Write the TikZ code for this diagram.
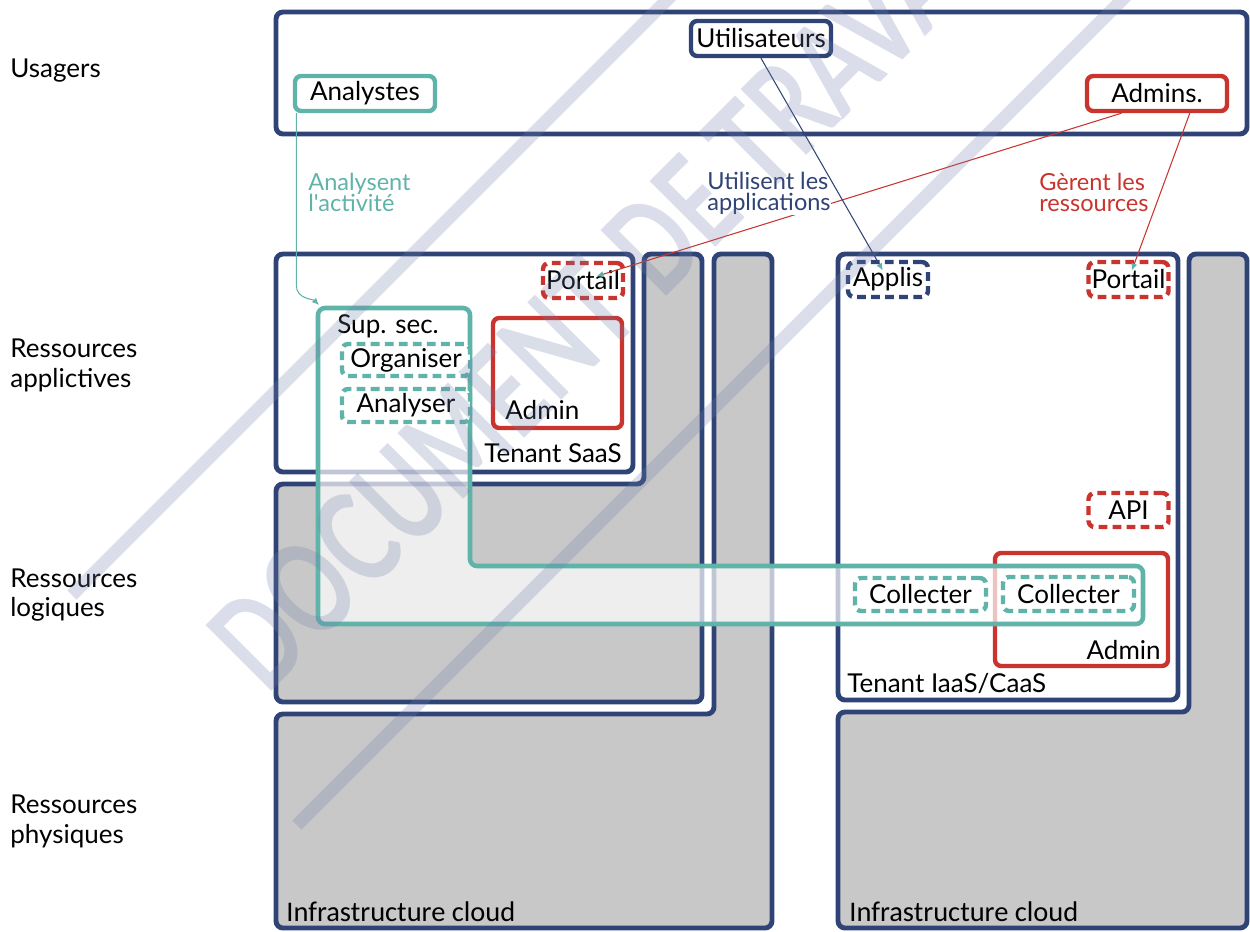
\documentclass[tikz,border=0pt]{standalone}
\usepackage{fontspec}
\setmainfont{Lato}[Ligatures=TeXOff]
\newfontfamily\infrafont{Carlito}
\usepackage{xcolor}
\usepackage{graphicx}
\usepackage{tikz}
\usetikzlibrary{arrows.meta}

\definecolor{marine}{RGB}{47,67,118}
\definecolor{canard}{RGB}{96,179,169}
\definecolor{rouge}{RGB}{201,52,46}
\definecolor{gris}{RGB}{200,200,200}
\definecolor{filigrane}{RGB}{110,125,170}

\newcommand\petit{\fontsize{13.4}{11.9}\selectfont\lineskiplimit=-20pt\relax}
\newcommand\infra{\infrafont\fontsize{16.2}{19}\selectfont}

\tikzset{
  couche/.style={draw=marine, line width=2.8pt, rounded corners=4pt},
  cadre/.style={line width=2.5pt, rounded corners=3.5pt},
  acteur/.style={cadre, draw, fill=white, inner sep=0pt, minimum width=2.8cm, minimum height=0.7cm},
  service/.style={acteur, dash pattern=on 5pt off 3pt, minimum width=1.6cm},
  lien/.style={line width=0.6pt, -{Latex[length=4pt, width=3.5pt, color=canard]}},
  legende/.style={anchor=north west, align=left, inner sep=0pt, font=\petit},
  niveau/.style={anchor=west, align=left, inner sep=0pt},
}

\begin{document}
\begin{tikzpicture}[x=0.02cm, y=-0.02cm]
            \tikzstyle{every node}=[font=\fontsize{14.8}{17}\selectfont]
            \clip (0,0) rectangle (1250,931);

            % Niveaux
            \node[anchor=base west, inner sep=0pt] (niv1) at (10,77) {Usagers};
            \node[niveau] (niv2) at (10,365) {Ressources\\applictives};
            \node[niveau] (niv3) at (10,595) {Ressources\\logiques};
            \node[niveau] (niv4) at (10,821) {Ressources\\physiques};

            % Usagers
            \draw[couche] (276,12) rectangle (1247,134);
            \node[acteur, draw=marine] (uti) at (761,38.5) {Utilisateurs};
            \node[acteur, draw=canard] (ana) at (365,93.5) {Analystes};
            \node[acteur, draw=rouge] (adm) at (1157,93.5) {Admins.};

            % Pile SaaS
            \draw[couche, fill=gris] (276,714) -- (714,714) -- (714,254) -- (772,254) -- (772,928) -- (276,928) -- cycle;
            \draw[couche, fill=gris] (276,484) -- (644,484) -- (644,254) -- (702,254) -- (702,702) -- (276,702) -- cycle;
            \draw[couche, fill=white] (276,254) rectangle (633,472);
            \node[service, draw=rouge] (portg) at (583,280.5) {Portail};
            \draw[cadre, rouge] (493,318) rectangle (622,428);
            \node[anchor=base west, inner sep=0pt] (admg) at (505,419) {Admin};
            \node[anchor=base east, inner sep=0pt] (saas) at (622,462) {Tenant SaaS};
            \node[anchor=base west, inner sep=0pt, font=\infra] (infg) at (286,921) {Infrastructure cloud};

            % Pile IaaS/CaaS
            \draw[couche, fill=gris] (838,712) -- (1189,712) -- (1189,254) -- (1247,254) -- (1247,928) -- (838,928) -- cycle;
            \draw[couche, fill=white] (838,254) rectangle (1178,700);
            \node[service, draw=marine] (applis) at (888,279.5) {Applis};
            \node[service, draw=rouge] (portd) at (1128.5,279.5) {Portail};
            \node[service, draw=rouge, minimum height=0.68cm] (api) at (1128.5,510) {API};
            \draw[cadre, rouge] (995,553) rectangle (1168,666);
            \node[anchor=base east, inner sep=0pt] (admd) at (1161,659) {Admin};
            \node[anchor=base west, inner sep=0pt] (iaas) at (847,692) {Tenant IaaS/CaaS};
            \node[anchor=base west, inner sep=0pt, font=\infra] (infd) at (849,921) {Infrastructure cloud};

            % Supervision de securite
            \draw[canard, line width=2.6pt, rounded corners=4pt, fill=white, fill opacity=0.7] (318,308) -- (470,308) -- (470,566) -- (1143,566) -- (1143,624) -- (318,624) -- cycle;
            \coordinate (supsec) at (319,305);
            \node[anchor=base west, inner sep=0pt] (sup) at (337,333) {Sup. sec.};
            \node[service, draw=canard, minimum width=2.56cm, minimum height=0.64cm] (orga) at (406,360) {Organiser};
            \node[service, draw=canard, minimum width=2.56cm, minimum height=0.66cm] (anal) at (406,405.5) {Analyser};
            \node[service, draw=canard, minimum width=2.62cm, minimum height=0.66cm] (coll1) at (920.5,594.5) {Collecter};
            \node[service, draw=canard, minimum width=2.62cm, minimum height=0.68cm] (coll2) at (1068.5,594) {Collecter};

            % Liens
            \draw[lien, canard] (ana.196) -- ++(0,172) .. controls +(0,14) and +(-6,-6) .. (supsec);
            \node[legende, text=canard] (l1) at (308,173) {Analysent\\l'activité};
            \draw[lien, rouge, shorten >=8pt] (adm.209) -- (portg.center);
            \node[legende, text=marine, fill=white] (l2) at (707,172) {Utilisent les\\applications};
            \draw[lien, marine, shorten >=6pt] (uti.south) -- (applis.center);
            \node[legende, text=rouge] (l3) at (1039,173) {Gèrent les\\ressources};
            \draw[lien, rouge, shorten >=5.5pt] (adm.329) -- (portd.center);

            % Filigrane
            \begin{scope}[filigrane, opacity=0.25]
                \draw[line width=7.4pt] (72,595) -- (700,-33);
                \draw[line width=7.4pt] (297,825) -- (1160,-38);
                \node[rotate=45, inner sep=0pt] (filig) at (612,285) {\resizebox{21.4cm}{1.88cm}{\bfseries DOCUMENT DE TRAVAIL}};
            \end{scope}
\end{tikzpicture}
\end{document}
